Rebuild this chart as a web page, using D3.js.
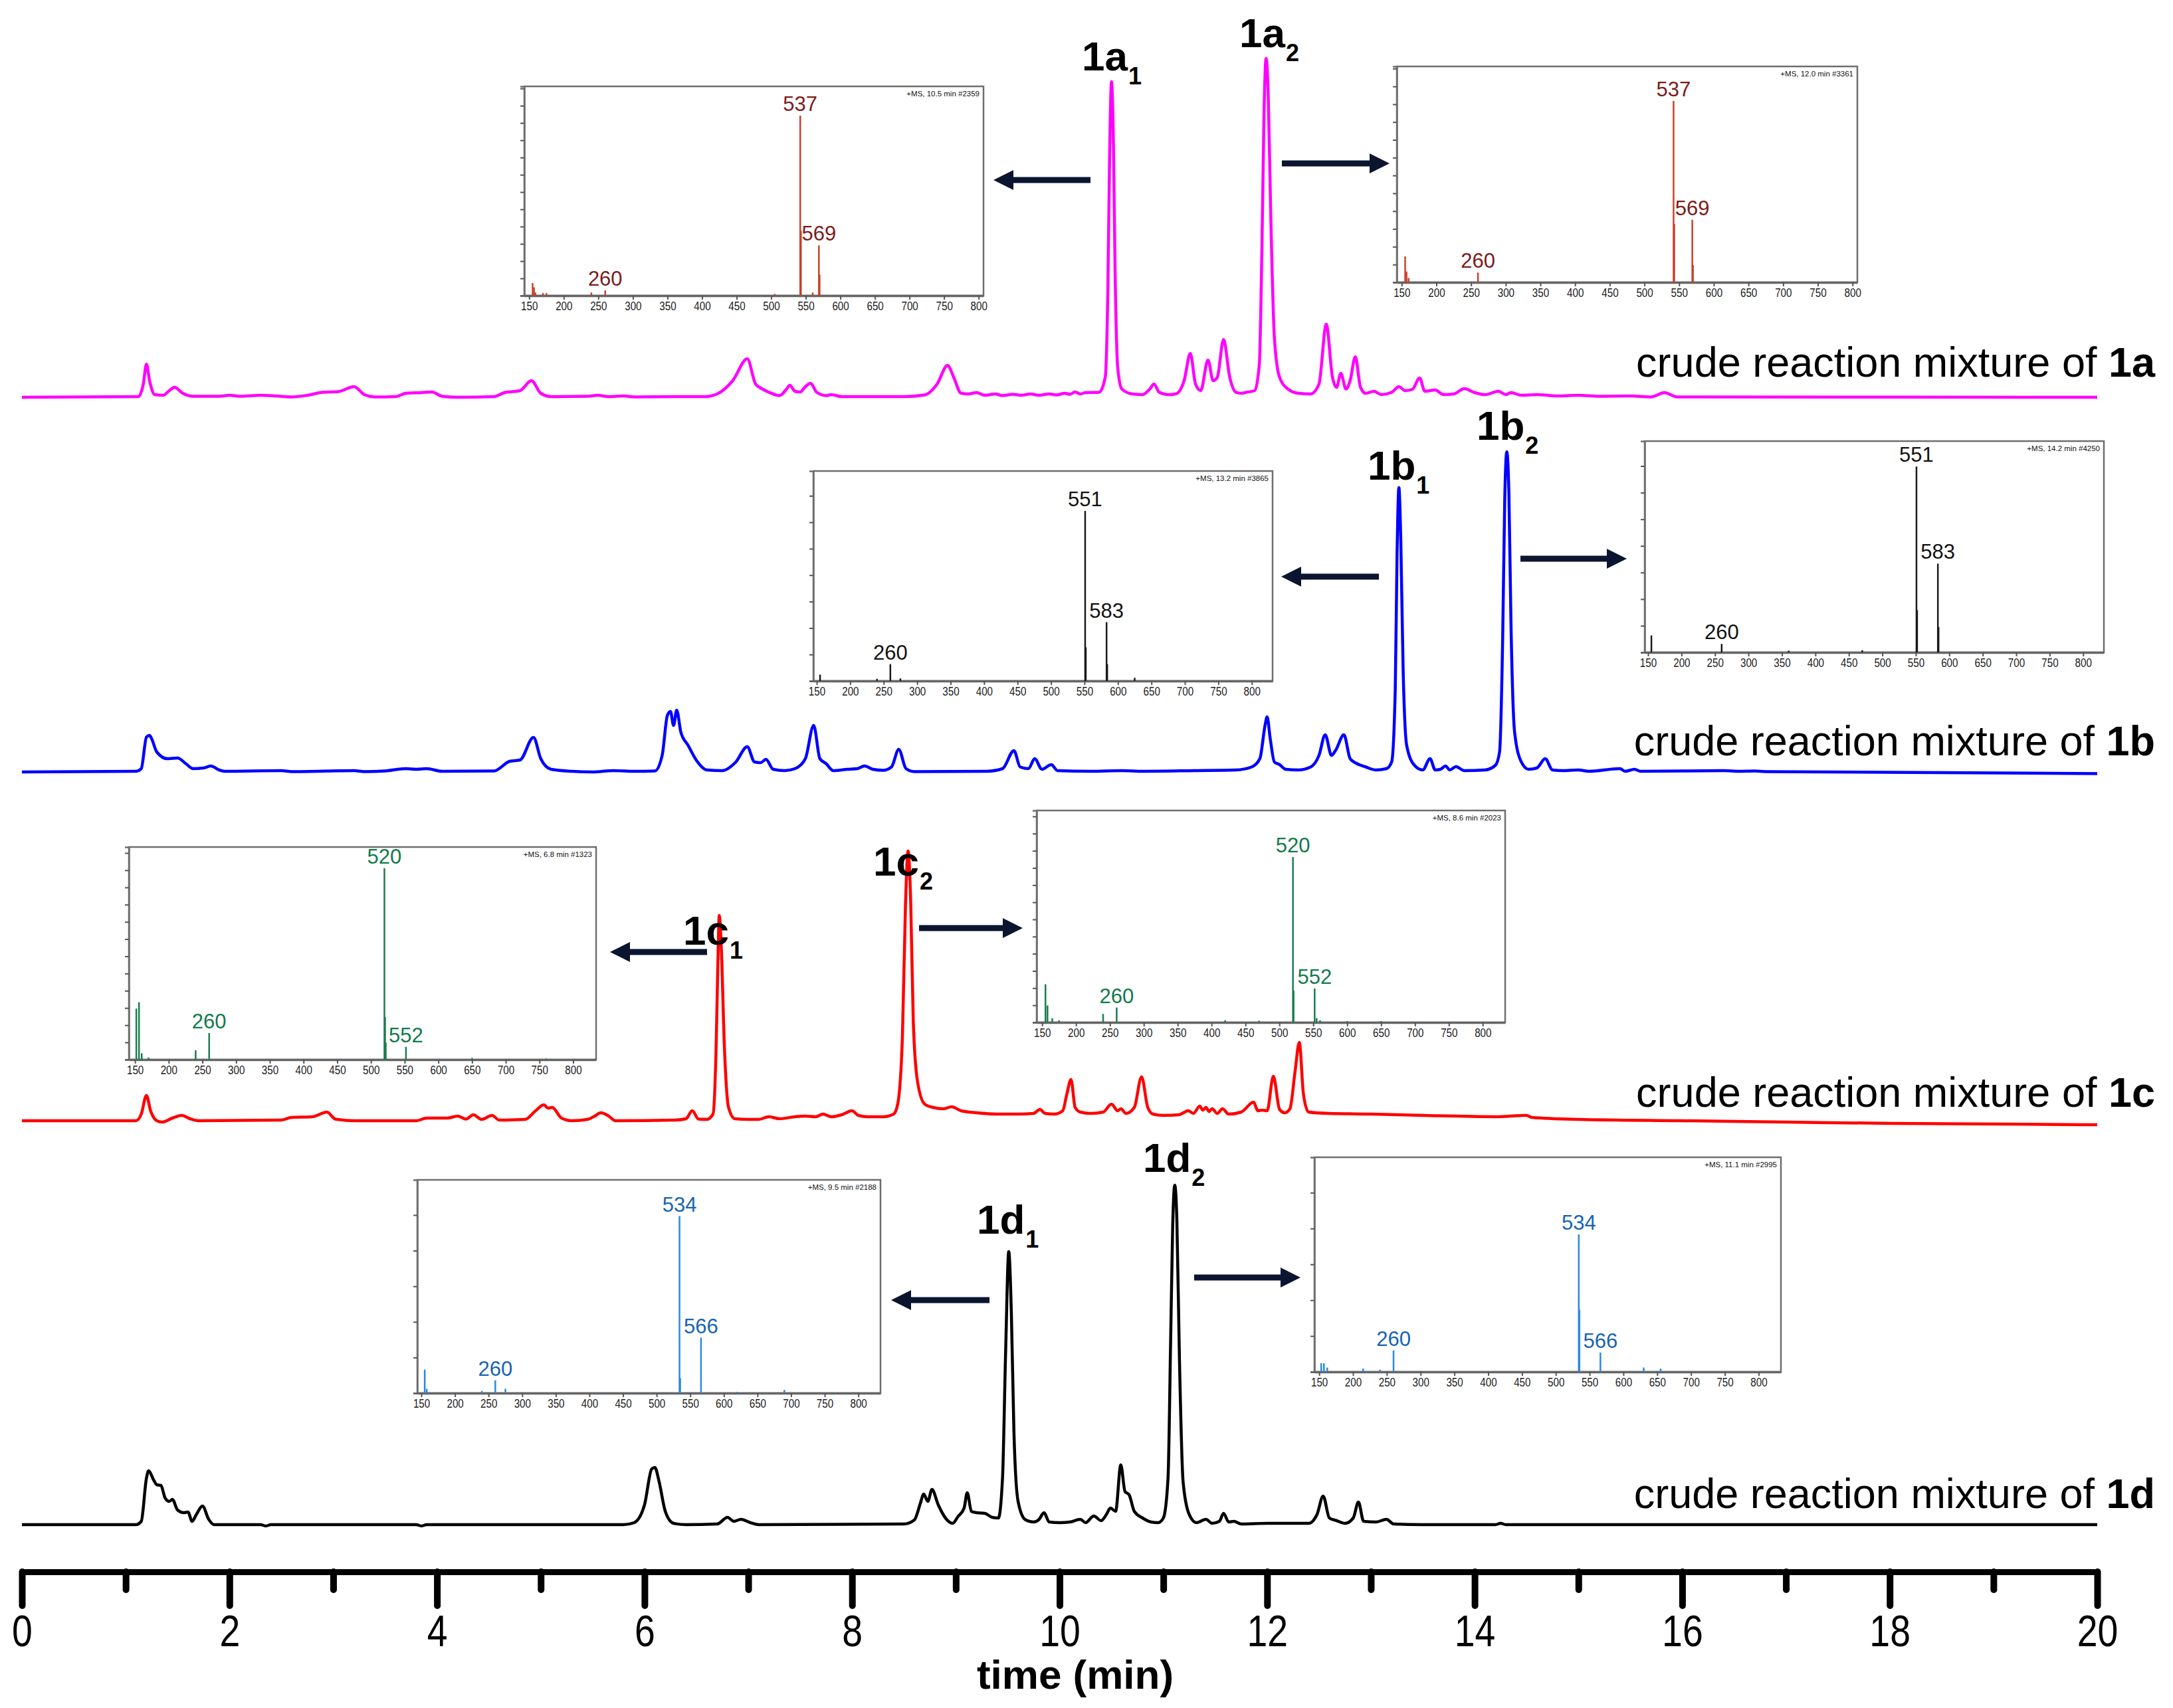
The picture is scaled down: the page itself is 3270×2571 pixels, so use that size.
<!DOCTYPE html>
<html>
<head>
<meta charset="utf-8">
<script src="https://cdn.jsdelivr.net/npm/d3@7"></script>
<style>
  body { margin: 0; background: #fff; }
  svg { display: block; }
</style>
</head>
<body>
<svg id="chart"></svg>
<script>
// Data: chromatograms, [time (min), intensity (a.u.)]
const trace1a = [[0,0],[1.12,0.2],[1.17,4],[1.2,10],[1.23,5],[1.28,0.8],[1.36,0.6],[1.42,2],[1.47,3],[1.55,1.2],[1.65,0.3],[1.9,0.3],[2.0,0.6],[2.1,0.3],[2.3,0.6],[2.45,0.4],[2.6,0.1],[2.75,0.6],[2.9,1.5],[3.05,1.7],[3.2,3.2],[3.3,0.8],[3.4,0.1],[3.6,0.2],[3.7,1.2],[3.85,1.4],[3.95,1.6],[4.05,0.3],[4.2,0],[4.55,0.2],[4.65,1.4],[4.8,2.0],[4.91,5],[5.0,1.2],[5.1,0.2],[5.45,0.3],[5.55,0.6],[5.65,0.2],[5.8,0.4],[5.9,0.1],[6.3,0.2],[6.58,0.2],[6.7,1],[6.85,5],[6.99,11.6],[7.07,4],[7.13,2.6],[7.2,1.5],[7.3,0.5],[7.37,2.5],[7.4,3.6],[7.45,1.8],[7.5,1.6],[7.55,3.2],[7.6,4.2],[7.66,1.5],[7.75,0.5],[7.8,0.8],[7.9,0.2],[8.5,0.2],[8.7,0.7],[8.82,4],[8.92,9.6],[8.98,6],[9.05,1.2],[9.12,1],[9.2,1.4],[9.28,0.6],[9.38,1.0],[9.45,0.5],[9.55,0.9],[9.63,0.6],[9.72,1],[9.8,0.6],[9.9,1.0],[9.97,0.7],[10.05,1.2],[10.1,0.9],[10.15,1.6],[10.2,1.0],[10.25,1.4],[10.38,1.5],[10.44,6],[10.465,32],[10.482,72],[10.5,95],[10.518,78],[10.535,38],[10.56,9],[10.6,2.5],[10.7,1.0],[10.8,0.8],[10.87,2.5],[10.91,4],[10.96,1.5],[11.05,0.8],[11.12,1],[11.2,5],[11.26,13.2],[11.31,4],[11.36,2],[11.43,11.2],[11.48,5],[11.52,6],[11.58,17.4],[11.64,6],[11.7,1.5],[11.75,1.2],[11.8,1.5],[11.88,2],[11.925,10],[11.95,45],[11.97,85],[11.99,102],[12.01,92],[12.035,55],[12.07,18],[12.12,6],[12.2,2.5],[12.3,1.2],[12.42,1.0],[12.5,4],[12.57,22],[12.63,6],[12.67,3],[12.71,7.2],[12.76,2.5],[12.8,5],[12.85,12.2],[12.9,3],[12.95,1.2],[13.03,1.8],[13.1,0.8],[13.2,1.5],[13.27,3.2],[13.33,2],[13.4,2.4],[13.47,5.8],[13.52,1.8],[13.62,2.2],[13.7,0.8],[13.8,1],[13.9,2.6],[14.0,1.4],[14.1,0.8],[14.23,1.8],[14.3,0.8],[14.35,1.4],[14.45,0.6],[14.6,0.8],[14.8,0.4],[15.0,0.6],[15.2,0.3],[15.5,0.4],[15.7,0.1],[15.83,1.4],[15.95,0.1],[20,0]];

const trace1b = [[0,0],[1.1,0.2],[1.15,1],[1.2,10.5],[1.23,11],[1.25,10],[1.3,6],[1.4,4],[1.5,4.2],[1.58,2.5],[1.65,1],[1.75,1.2],[1.82,1.8],[1.9,0.6],[1.95,0.2],[2.5,0.4],[2.6,0.1],[3.2,0.4],[3.3,0.1],[3.5,0.3],[3.7,1.0],[3.8,0.8],[3.9,1.0],[4.05,0.2],[4.55,0.3],[4.7,3.2],[4.8,3.6],[4.93,10.4],[5.0,4],[5.1,0.8],[5.3,0.2],[5.5,0],[5.7,0.4],[5.9,0.2],[6.1,0.3],[6.17,5],[6.22,17],[6.25,18.2],[6.28,14],[6.31,18.6],[6.35,12],[6.42,8],[6.5,3.5],[6.6,0.6],[6.75,0.4],[6.88,3],[6.99,7.6],[7.06,3],[7.12,2.8],[7.17,3.8],[7.24,0.8],[7.35,0.4],[7.45,1],[7.55,4],[7.63,14],[7.69,4],[7.75,2.5],[7.82,0.4],[7.95,0.8],[8.05,1.0],[8.12,1.8],[8.2,0.8],[8.3,0.5],[8.38,1.5],[8.45,6.8],[8.52,1],[8.6,0.1],[9.3,0.2],[9.45,1],[9.56,6.4],[9.62,1.5],[9.7,1],[9.76,4],[9.83,0.8],[9.92,2.2],[9.98,0.4],[10.3,0.2],[10.6,0.4],[10.8,0.2],[11.3,0.4],[11.7,0.6],[11.85,1.5],[11.93,4],[11.98,14],[12.0,16.6],[12.03,10],[12.07,3],[12.12,2.2],[12.18,0.8],[12.3,0.6],[12.42,1.5],[12.5,5],[12.56,11.2],[12.62,5],[12.66,6.5],[12.74,11.2],[12.8,4],[12.86,2.6],[12.95,1.5],[13.05,0.6],[13.15,1],[13.2,3],[13.235,25],[13.252,65],[13.27,85.6],[13.288,70],[13.31,32],[13.345,8],[13.42,2],[13.5,0.6],[13.57,4],[13.62,0.6],[13.67,0.8],[13.72,1.8],[13.76,0.6],[13.82,1.6],[13.9,0.4],[14.1,0.6],[14.2,2],[14.24,6],[14.27,40],[14.29,82],[14.31,96.4],[14.33,84],[14.35,45],[14.385,12],[14.45,3],[14.52,0.8],[14.6,1.2],[14.68,4],[14.75,0.6],[14.85,0.4],[15.0,0.6],[15.1,0.2],[15.4,1.0],[15.45,0.2],[15.54,0.8],[15.6,0.2],[16.4,0.4],[16.55,0.2],[16.7,0.3],[16.8,0.1],[20,-0.5]];

const trace1c = [[0,0],[1.1,0],[1.15,2],[1.2,7.6],[1.24,3],[1.3,0],[1.35,-0.4],[1.45,0.8],[1.54,1.6],[1.62,0.6],[1.7,0],[2.5,0.2],[2.6,1],[2.8,1.2],[2.94,2.6],[3.02,0.5],[3.2,0],[3.8,0],[3.9,0.8],[4.1,0.8],[4.2,1.4],[4.28,0.5],[4.35,1.8],[4.43,0.4],[4.53,1.6],[4.6,0.2],[4.85,0.4],[4.95,3],[5.03,4.8],[5.07,3.8],[5.11,4],[5.2,0.8],[5.3,0],[5.45,0.4],[5.52,1.4],[5.58,2.4],[5.65,1.5],[5.72,0],[6.3,0.2],[6.4,0.6],[6.46,3],[6.52,0.5],[6.6,0.4],[6.66,2],[6.69,22],[6.71,52],[6.72,61.8],[6.74,52],[6.77,22],[6.81,4],[6.87,0.6],[7.0,0.4],[7.1,0.4],[7.2,1.2],[7.3,0.6],[7.45,1.2],[7.55,1.4],[7.65,1.2],[7.72,2],[7.8,1.2],[7.9,1.8],[8.0,3],[8.06,1.6],[8.15,1.2],[8.3,1.2],[8.4,2],[8.44,5],[8.485,25],[8.515,65],[8.54,81.2],[8.565,66],[8.59,30],[8.63,12],[8.7,5],[8.78,4],[8.88,3.6],[8.96,4.2],[9.05,3],[9.2,2.4],[9.4,2],[9.6,2],[9.75,2.2],[9.81,3.4],[9.86,2.2],[9.95,2],[10.03,3],[10.07,8],[10.11,12.4],[10.15,4],[10.2,2.6],[10.3,2.2],[10.42,2.6],[10.5,5],[10.56,3],[10.59,3.6],[10.64,2.2],[10.72,4],[10.79,13.2],[10.85,4],[10.9,2],[11.0,1.6],[11.15,1.8],[11.24,3],[11.29,2.2],[11.35,4.4],[11.38,3.2],[11.41,4],[11.44,2.8],[11.47,3.6],[11.52,2.2],[11.57,3.6],[11.63,2],[11.75,2.6],[11.87,5.6],[11.91,3],[11.95,3.2],[12.0,3],[12.06,13.4],[12.12,3.4],[12.17,2.4],[12.22,3.6],[12.27,15],[12.31,23.6],[12.35,8],[12.4,2.6],[12.6,2.2],[13.0,2],[13.5,1.6],[14.2,1.2],[14.5,1.6],[14.55,1],[15.0,0.4],[16.0,0],[17.0,-0.4],[18.0,-0.8],[20,-1.2]];

const trace1d = [[0,0],[1.1,0],[1.15,1],[1.2,14],[1.22,16.2],[1.27,13.4],[1.3,12],[1.34,11.8],[1.38,8],[1.42,7],[1.45,7.6],[1.5,4.4],[1.56,3.6],[1.6,3.8],[1.64,1],[1.68,3],[1.74,5.6],[1.8,1.6],[1.85,0],[2.3,0],[2.35,-0.4],[2.4,0],[3.8,0],[3.85,-0.4],[3.9,0],[5.8,0],[5.9,0.6],[6.0,6],[6.07,16.8],[6.1,17.2],[6.14,13],[6.2,4],[6.28,0.4],[6.4,0],[6.7,0.2],[6.8,2.2],[6.86,1],[6.93,1.6],[7.02,0.6],[7.1,0],[8.5,0.2],[8.6,1.4],[8.66,6.6],[8.69,9.2],[8.73,7],[8.77,10.6],[8.83,6],[8.9,2],[8.97,0.4],[9.02,2.4],[9.08,5],[9.11,9.6],[9.15,4],[9.2,3.6],[9.28,3.4],[9.35,2.2],[9.41,2],[9.45,14],[9.48,52],[9.51,82.2],[9.535,64],[9.56,28],[9.6,7],[9.67,1.5],[9.75,0.8],[9.8,1.5],[9.85,3.6],[9.9,0.8],[10.0,0.6],[10.1,0.8],[10.2,1.6],[10.25,0.6],[10.33,2.6],[10.4,1.2],[10.45,3],[10.49,5],[10.54,4],[10.59,18],[10.63,10],[10.67,9],[10.72,4],[10.8,2],[10.88,0.8],[10.95,0.6],[11.0,2],[11.045,14],[11.07,55],[11.09,90],[11.11,102.2],[11.13,92],[11.155,50],[11.19,13],[11.25,3],[11.32,0.6],[11.41,1.6],[11.47,0.4],[11.54,1],[11.58,3.4],[11.63,0.8],[11.68,1],[11.75,0.2],[12.0,0.4],[12.4,0.4],[12.48,3],[12.54,8.6],[12.6,2],[12.67,1.2],[12.75,0.4],[12.83,2],[12.88,6.8],[12.93,1],[13.05,0.8],[13.15,1.6],[13.22,0.2],[13.5,0],[14.2,0],[14.25,0.4],[14.3,0],[20,0]];

const timeTicks = [0, 2, 4, 6, 8, 10, 12, 14, 16, 18, 20];
const timeMinorTicks = [1, 3, 5, 7, 9, 11, 13, 15, 17, 19];
const mzTicks = [150, 200, 250, 300, 350, 400, 450, 500, 550, 600, 650, 700, 750, 800];

// Mass spectra, [m/z, relative intensity %]
const ms1a1 = [[155,6],[157,4],[159,1.5],[170,1.2],[175,1.2],[240,1.5],[260,2.5],[505,0.8],[542,86],[543,31],[560,1.5],[569,24],[570,10]];
const ms1a2 = [[155,12],[157,5],[160,2],[260,4.5],[542,84],[543,27],[569,29],[570,8]];
const ms1b1 = [[155,3],[240,1],[260,8],[275,1.2],[551,81],[552,16],[583,28],[584,8],[625,1.5]];
const ms1b2 = [[155,8],[260,4],[360,0.8],[470,1],[551,88],[552,20],[583,42],[584,12]];
const ms1c1 = [[152,24],[156,27],[160,3],[170,1],[240,4.4],[260,12.5],[520,90],[521,20],[522,8],[552,6],[650,0.8],[760,0.5]];
const ms1c2 = [[155,18],[158,8],[165,2],[175,1],[240,4],[260,7],[420,1],[470,0.8],[520,78],[521,15],[552,16],[555,2],[560,1],[600,0.6],[650,0.6]];
const ms1d1 = [[155,11],[158,2],[240,1],[260,6],[275,2],[534,83],[535,7],[566,26],[620,0.6],[690,1.5]];
const ms1d2 = [[153,4],[157,4],[162,2],[215,1.5],[240,1],[260,10],[534,64],[535,29],[566,9],[630,2],[655,1.5]];

// Peak labels, [text, m/z, relative intensity %]
const lab1a1 = [['537',542,86],['569',569,24],['260',260,2.5]];
const lab1a2 = [['537',542,84],['569',569,29],['260',260,4.5]];
const lab1b1 = [['551',551,81],['583',583,28],['260',260,8]];
const lab1b2 = [['551',551,88],['583',583,42],['260',260,4]];
const lab1c1 = [['520',520,90],['260',260,12.5],['552',552,6]];
const lab1c2 = [['520',520,78],['260',260,7],['552',552,16]];
const lab1d1 = [['534',534,83],['566',566,26],['260',260,6]];
const lab1d2 = [['534',534,64],['260',260,10],['566',566,9]];

const scanTitles = ['+MS, 10.5 min #2359', '+MS, 12.0 min #3361', '+MS, 13.2 min #3865', '+MS, 14.2 min #4250',
  '+MS, 6.8 min #1323', '+MS, 8.6 min #2023', '+MS, 9.5 min #2188', '+MS, 11.1 min #2995'];

// Layout
const W = 3270, H = 2571;
const ARIAL = 'Arial, "Liberation Sans", Helvetica, sans-serif';

const svg = d3.select('#chart').attr('width', W).attr('height', H);
svg.append('rect').attr('width', W).attr('height', H).attr('fill', '#fff');

const x = d3.scaleLinear().domain([0, 20]).range([33, 3156]);

const traces = [
  { data: trace1a, color: '#ff00ff', base: 598, name: '1a', labelY: 567 },
  { data: trace1b, color: '#0000ff', base: 1162, name: '1b', labelY: 1137 },
  { data: trace1c, color: '#ff0000', base: 1687, name: '1c', labelY: 1666 },
  { data: trace1d, color: '#000000', base: 2295, name: '1d', labelY: 2270 }
];

traces.forEach(tr => {
  const y = d3.scaleLinear().domain([0, 100]).range([tr.base, tr.base - 500]);
  const line = d3.line().x(d => x(d[0])).y(d => y(d[1])).curve(d3.curveMonotoneX);
  svg.append('path').datum(tr.data)
    .attr('d', line).attr('fill', 'none')
    .attr('stroke', tr.color).attr('stroke-width', 4.5).attr('stroke-linejoin', 'round');

  const t = svg.append('text').attr('x', 3243).attr('y', tr.labelY)
    .attr('text-anchor', 'end').attr('font-family', ARIAL).attr('font-size', 63).attr('fill', '#000');
  t.append('tspan').text('crude reaction mixture of ');
  t.append('tspan').attr('font-weight', 'bold').text(tr.name);
});

// Time axis
const axisY = 2366;
const gMinor = svg.append('g').attr('transform', `translate(0,${axisY})`)
  .call(d3.axisBottom(x).tickValues(timeMinorTicks).tickSize(27).tickFormat(''));
gMinor.select('.domain').remove();
const gAxis = svg.append('g').attr('transform', `translate(0,${axisY})`)
  .call(d3.axisBottom(x).tickValues(timeTicks).tickSize(51).tickSizeOuter(0).tickPadding(14));
gAxis.select('.domain').attr('stroke-width', 9).attr('stroke', '#000');
svg.selectAll('.tick line').attr('stroke', '#000').attr('stroke-width', 10).attr('stroke-linecap', 'round');
// narrow look: squeeze the regular face horizontally
gAxis.selectAll('.tick text').attr('font-family', ARIAL).attr('font-size', 66).attr('fill', '#000')
  .attr('transform', 'scale(0.84,1)');

svg.append('text').attr('x', 1618).attr('y', 2542).attr('text-anchor', 'middle')
  .attr('font-family', ARIAL).attr('font-weight', 'bold').attr('font-size', 62).text('time (min)');

// Compound labels with subscripts
const compoundLabels = [
  ['1a', '1', 1628, 106], ['1a', '2', 1865, 71],
  ['1b', '1', 2058, 722], ['1b', '2', 2222, 662],
  ['1c', '1', 1028, 1422], ['1c', '2', 1314, 1318],
  ['1d', '1', 1470, 1857], ['1d', '2', 1720, 1764]
];
compoundLabels.forEach(([main, sub, lx, ly]) => {
  const t = svg.append('text').attr('x', lx).attr('y', ly)
    .attr('font-family', ARIAL).attr('font-weight', 'bold').attr('fill', '#000');
  t.append('tspan').attr('font-size', 62).text(main);
  t.append('tspan').attr('font-size', 36).attr('dx', 1).attr('dy', 21).text(sub);
});

// Arrows: [tailX, tipX, y]
const arrows = [
  [1641, 1495, 271], [1929, 2091, 246],
  [2075, 1928, 868], [2288, 2448, 841],
  [1064, 918, 1433], [1383, 1539, 1397],
  [1489, 1341, 1957], [1797, 1957, 1923]
];
arrows.forEach(([x0, x1, ay]) => {
  const dir = Math.sign(x1 - x0);
  const hl = 30, hw = 15;
  svg.append('line').attr('x1', x0).attr('x2', x1 - dir * hl + dir * 2).attr('y1', ay).attr('y2', ay)
    .attr('stroke', '#0b1530').attr('stroke-width', 9);
  svg.append('path')
    .attr('d', `M${x1},${ay} L${x1 - dir * hl},${ay - hw} L${x1 - dir * hl},${ay + hw} Z`)
    .attr('fill', '#0b1530');
});

// MS insets
const insetColors = {
  a: { line: '#c8412a', label: '#7d1a1a' },
  b: { line: '#1a1a1a', label: '#111111' },
  c: { line: '#1b7d4e', label: '#127a4a' },
  d: { line: '#2a88df', label: '#1663b3' }
};
const insets = [
  { peaks: ms1a1, labels: lab1a1, title: scanTitles[0], c: 'a', box: [789, 1480, 130, 445], mz: [143, 807], yStep: 8.25 },
  { peaks: ms1a2, labels: lab1a2, title: scanTitles[1], c: 'a', box: [2102, 2795, 100, 425], mz: [143, 807], yStep: 8.25 },
  { peaks: ms1b1, labels: lab1b1, title: scanTitles[2], c: 'b', box: [1224, 1915, 709, 1025], mz: [145, 831], yStep: 12.6 },
  { peaks: ms1b2, labels: lab1b2, title: scanTitles[3], c: 'b', box: [2475, 3166, 664, 982], mz: [145, 831], yStep: 12.6 },
  { peaks: ms1c1, labels: lab1c1, title: scanTitles[4], c: 'c', box: [194, 897, 1275, 1595], mz: [141, 834], yStep: 8.1 },
  { peaks: ms1c2, labels: lab1c2, title: scanTitles[5], c: 'c', box: [1560, 2265, 1220, 1539], mz: [142, 833], yStep: 8.1 },
  { peaks: ms1d1, labels: lab1d1, title: scanTitles[6], c: 'd', box: [628, 1325, 1776, 2097], mz: [144, 833], yStep: 16.7 },
  { peaks: ms1d2, labels: lab1d2, title: scanTitles[7], c: 'd', box: [1978, 2680, 1742, 2065], mz: [143, 833], yStep: 16.7 }
];

insets.forEach(ins => {
  const [bx0, bx1, by0, by1] = ins.box;
  const col = insetColors[ins.c];
  const mx = d3.scaleLinear().domain(ins.mz).range([bx0, bx1]);
  const my = d3.scaleLinear().domain([0, 100]).range([by1, by0]);
  const g = svg.append('g');

  g.append('rect').attr('x', bx0).attr('y', by0).attr('width', bx1 - bx0).attr('height', by1 - by0)
    .attr('fill', '#fff').attr('stroke', '#6e6e6e').attr('stroke-width', 2.5);

  const yTicks = d3.range(0, 100, ins.yStep);
  const gy = g.append('g').attr('transform', `translate(${bx0},0)`)
    .call(d3.axisLeft(my).tickValues(yTicks).tickSize(6).tickFormat(''));
  gy.select('.domain').attr('stroke', '#6e6e6e').attr('stroke-width', 2.5);
  gy.selectAll('.tick line').attr('stroke', '#555').attr('stroke-width', 2);

  const gx = g.append('g').attr('transform', `translate(0,${by1})`)
    .call(d3.axisBottom(mx).tickValues(mzTicks).tickSize(6).tickSizeOuter(0).tickPadding(3));
  gx.select('.domain').attr('stroke', '#666').attr('stroke-width', 3.5);
  gx.selectAll('.tick line').attr('stroke', '#555').attr('stroke-width', 2);
  gx.selectAll('.tick text').attr('font-family', ARIAL).attr('font-size', 19).attr('fill', '#222')
    .attr('transform', 'scale(0.8,1)');

  g.selectAll('line.peak').data(ins.peaks).join('line').attr('class', 'peak')
    .attr('x1', d => mx(d[0])).attr('x2', d => mx(d[0]))
    .attr('y1', my(0)).attr('y2', d => my(d[1]))
    .attr('stroke', col.line).attr('stroke-width', 2.5);

  g.selectAll('text.plab').data(ins.labels).join('text').attr('class', 'plab')
    .attr('x', d => mx(d[1])).attr('y', d => my(d[2]) - 7)
    .attr('text-anchor', 'middle').attr('font-family', ARIAL).attr('font-size', 31)
    .attr('fill', col.label).text(d => d[0]);

  g.append('text').attr('x', bx1 - 6).attr('y', by0 + 15).attr('text-anchor', 'end')
    .attr('font-family', ARIAL).attr('font-size', 11.5).attr('fill', '#111').text(ins.title);
});
</script>
</body>
</html>
